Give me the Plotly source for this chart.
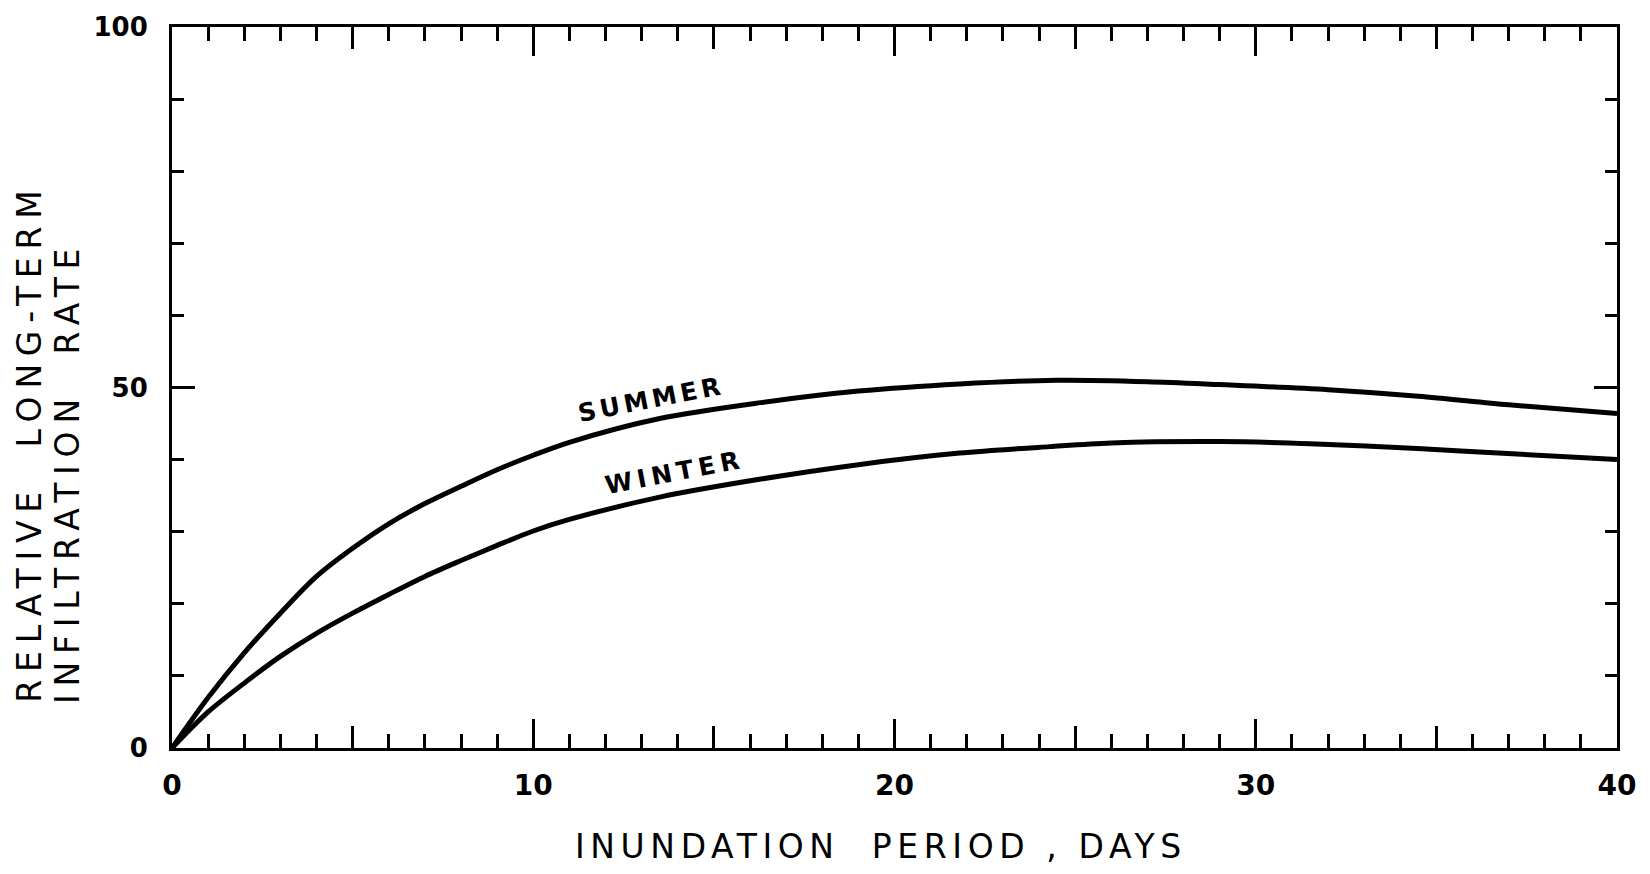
import plotly.graph_objects as go

# ---- data ----
days_summer = [0, 1, 2, 3, 4, 5, 6, 7, 8, 9, 10, 11, 13.5, 16.3, 19, 21.8, 24.5, 27, 29, 32, 34.5, 37, 40]
summer = [0, 7.0, 13.2, 18.7, 23.8, 27.7, 31.1, 33.9, 36.3, 38.6, 40.6, 42.4, 45.7, 47.9, 49.5, 50.5,
          51.0, 50.8, 50.4, 49.7, 48.8, 47.6, 46.4]

days_winter = [0, 1, 2, 3, 4, 5, 6, 7, 8, 9, 10, 11, 13.5, 16.3, 19, 21.8, 24.3, 26, 29, 31.5, 34.6, 37.1, 40]
winter = [0, 5.0, 9.0, 12.7, 15.9, 18.7, 21.3, 23.8, 26.0, 28.1, 30.1, 31.7, 34.8, 37.3, 39.3, 40.9,
          41.8, 42.3, 42.5, 42.2, 41.5, 40.8, 40.0]

x_tick_vals = [0, 10, 20, 30, 40]
x_tick_text = ["0", "10", "20", "30", "40"]
y_tick_vals = [0, 50, 100]
y_tick_text = ["0", "50", "100"]

series_labels = ["SUMMER", "WINTER"]
label_pos_x = [13.25, 13.9]
label_pos_y = [48.3, 38.2]

x_title = "INUNDATION\u00a0\u00a0PERIOD , DAYS"
y_title_1 = "RELATIVE\u00a0\u00a0LONG-TERM"
y_title_2 = "INFILTRATION\u00a0\u00a0RATE"

FONT = "DejaVu Sans"
BLACK = "black"

fig = go.Figure()
fig.add_trace(go.Scatter(x=days_summer, y=summer, mode="lines", name="SUMMER",
                         line=dict(color=BLACK, width=5, shape="spline", smoothing=0.9),
                         xaxis="x", yaxis="y", showlegend=False, hoverinfo="skip"))
fig.add_trace(go.Scatter(x=days_winter, y=winter, mode="lines", name="WINTER",
                         line=dict(color=BLACK, width=5, shape="spline", smoothing=0.9),
                         xaxis="x2", yaxis="y", showlegend=False, hoverinfo="skip"))

annotations = []
for txt, ax_, ay_ in zip(series_labels, label_pos_x, label_pos_y):
    annotations.append(dict(x=ax_, y=ay_, xref="x", yref="y", text=txt, showarrow=False,
                            textangle=-11, font=dict(family=FONT, size=25, color=BLACK, weight="bold")))

annotations.append(dict(x=0.491, y=-0.136, xref="paper", yref="paper", text=x_title, showarrow=False,
                        xanchor="center", yanchor="middle",
                        font=dict(family=FONT, size=33, color=BLACK)))
annotations.append(dict(x=-0.0983, y=0.4236, xref="paper", yref="paper", text=y_title_1, showarrow=False,
                        textangle=-90, xanchor="center", yanchor="middle",
                        font=dict(family=FONT, size=33, color=BLACK)))
annotations.append(dict(x=-0.072, y=0.3830, xref="paper", yref="paper", text=y_title_2, showarrow=False,
                        textangle=-90, xanchor="center", yanchor="middle",
                        font=dict(family=FONT, size=33, color=BLACK)))

fig.update_layout(
    width=1650, height=874,
    margin=dict(l=172, r=33, t=21, b=126),
    paper_bgcolor="white", plot_bgcolor="white",
    showlegend=False,
    xaxis=dict(range=[0, 40], showline=True, linewidth=3, linecolor=BLACK, mirror="ticks",
               ticks="inside", tickmode="linear", tick0=0, dtick=5, ticklen=22, tickwidth=3,
               tickcolor=BLACK, showticklabels=False, showgrid=False, zeroline=False,
               minor=dict(ticks="inside", tickmode="linear", tick0=0, dtick=1, ticklen=14,
                          tickwidth=2.5, tickcolor=BLACK, showgrid=False)),
    xaxis2=dict(range=[0, 40], overlaying="x", anchor="y", side="bottom", showline=True,
                linewidth=3, linecolor=BLACK, mirror="ticks", ticks="inside",
                tickmode="array", tickvals=x_tick_vals, ticktext=x_tick_text,
                ticklen=29, tickwidth=3, tickcolor=BLACK, showgrid=False, zeroline=False,
                ticklabelstandoff=10,
                tickfont=dict(family=FONT, size=28, color=BLACK, weight="bold")),
    yaxis=dict(range=[0, 100], showline=True, linewidth=3, linecolor=BLACK, mirror="ticks",
               ticks="inside", tickmode="array", tickvals=y_tick_vals, ticktext=y_tick_text,
               ticklen=23, tickwidth=3, tickcolor=BLACK, showgrid=False, zeroline=False,
               ticklabelstandoff=16,
               tickfont=dict(family=FONT, size=26, color=BLACK, weight="bold"),
               minor=dict(ticks="inside", tickmode="linear", tick0=0, dtick=10, ticklen=12,
                          tickwidth=3, tickcolor=BLACK, showgrid=False)),
    annotations=annotations,
)

post = """
document.body.style.margin = '0';
document.body.style.overflow = 'hidden';
var spacing = [4, 5, 5.6, 7.8, 7.8];
var gd = document.getElementsByClassName('plotly-graph-div')[0];
gd.querySelectorAll('g.annotation').forEach(function(g){
  var i = +g.getAttribute('data-index');
  var t = g.querySelector('text.annotation-text');
  if (t && spacing[i] !== undefined) { t.style.letterSpacing = spacing[i] + 'px'; }
});
"""

fig.write_html("out.html", post_script=post, config={"displayModeBar": False})
